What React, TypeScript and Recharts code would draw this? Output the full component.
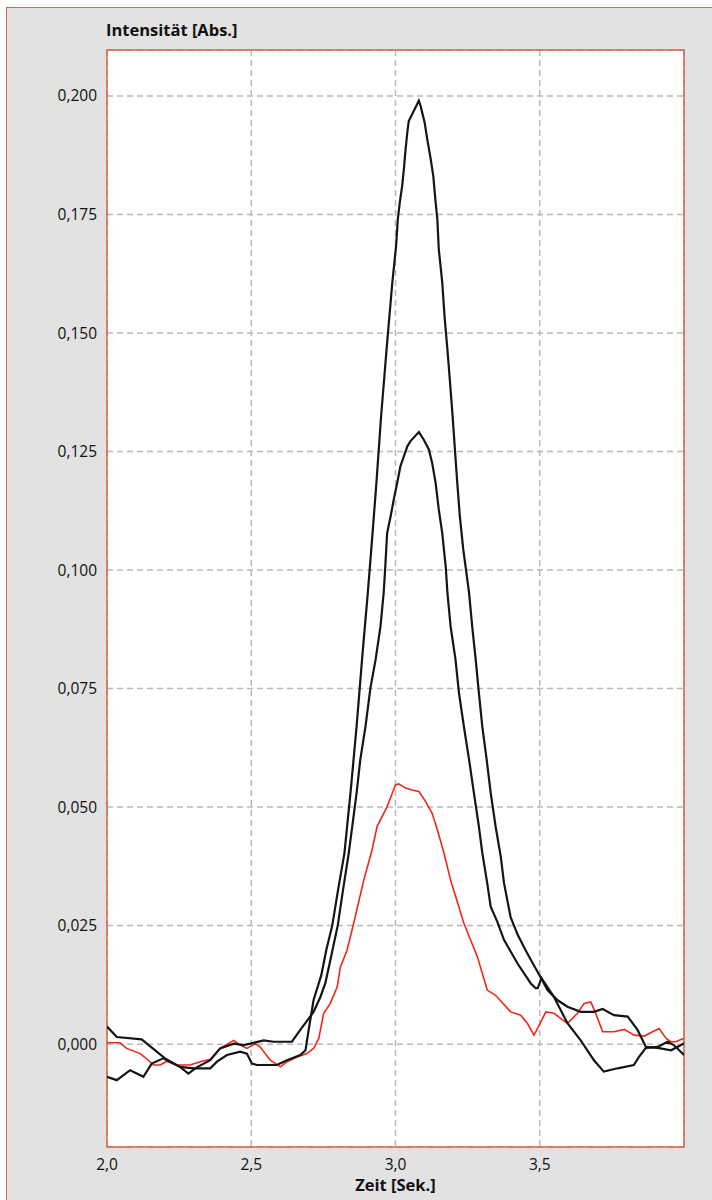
import React from "react";
import { LineChart, Line, XAxis, YAxis, CartesianGrid, ReferenceArea } from "recharts";

// Axis setup
const X_TICKS = [2.0, 2.5, 3.0, 3.5];
const Y_TICKS = [0, 0.025, 0.05, 0.075, 0.1, 0.125, 0.15, 0.175, 0.2];
const X_DOMAIN: [number, number] = [2.0, 4.0];
const Y_DOMAIN: [number, number] = [-0.0217, 0.2097];

// Measured traces: [Zeit (s), Intensität (Abs.)]
const highTrace: [number, number][] = [
  [2.000, -0.0069], [2.034, -0.0076], [2.080, -0.0055], [2.103, -0.0062], [2.126, -0.0069],
  [2.155, -0.0041], [2.195, -0.0030], [2.253, -0.0048], [2.300, -0.0051], [2.358, -0.0051],
  [2.381, -0.0037], [2.416, -0.0023], [2.462, -0.0016], [2.485, -0.0020], [2.502, -0.0041],
  [2.520, -0.0044], [2.589, -0.0044], [2.624, -0.0034], [2.670, -0.0023], [2.688, -0.0013],
  [2.699, 0.0030], [2.716, 0.0093], [2.743, 0.0146], [2.760, 0.0198], [2.781, 0.0251],
  [2.802, 0.0329], [2.823, 0.0403], [2.844, 0.0530], [2.865, 0.0669], [2.884, 0.0811],
  [2.904, 0.0952], [2.916, 0.1043], [2.934, 0.1185], [2.950, 0.1324], [2.969, 0.1465],
  [2.989, 0.1607], [3.002, 0.1683], [3.008, 0.1740], [3.015, 0.1776], [3.023, 0.1810],
  [3.029, 0.1845], [3.035, 0.1888], [3.041, 0.1924], [3.046, 0.1947], [3.081, 0.1990],
  [3.087, 0.1979], [3.101, 0.1944], [3.110, 0.1909], [3.122, 0.1867], [3.131, 0.1831],
  [3.139, 0.1776], [3.145, 0.1740], [3.150, 0.1677], [3.162, 0.1607], [3.170, 0.1535],
  [3.180, 0.1465], [3.189, 0.1396], [3.198, 0.1324], [3.206, 0.1254], [3.214, 0.1185],
  [3.223, 0.1113], [3.235, 0.1043], [3.243, 0.1007], [3.255, 0.0952], [3.266, 0.0880],
  [3.278, 0.0811], [3.289, 0.0741], [3.301, 0.0669], [3.316, 0.0600], [3.330, 0.0530],
  [3.347, 0.0459], [3.365, 0.0395], [3.376, 0.0340], [3.399, 0.0268], [3.424, 0.0230],
  [3.451, 0.0198], [3.479, 0.0167], [3.503, 0.0141], [3.527, 0.0114], [3.561, 0.0093],
  [3.596, 0.0079], [3.642, 0.0068], [3.688, 0.0068], [3.718, 0.0074], [3.757, 0.0061],
  [3.805, 0.0058], [3.839, 0.0030], [3.868, -0.0006], [3.909, -0.0008], [3.955, -0.0013],
  [3.990, -0.0002], [4.000, 0.0002],
];

const midTrace: [number, number][] = [
  [2.000, 0.0037], [2.034, 0.0015], [2.120, 0.0010], [2.201, -0.0030], [2.253, -0.0048],
  [2.282, -0.0062], [2.311, -0.0049], [2.358, -0.0034], [2.392, -0.0009], [2.439, 0.0001],
  [2.473, -0.0002], [2.497, 0.0001], [2.543, 0.0008], [2.577, 0.0005], [2.641, 0.0005],
  [2.670, 0.0030], [2.699, 0.0054], [2.716, 0.0068], [2.740, 0.0100], [2.757, 0.0129],
  [2.778, 0.0188], [2.800, 0.0251], [2.818, 0.0325], [2.838, 0.0403], [2.850, 0.0459],
  [2.865, 0.0529], [2.878, 0.0600], [2.896, 0.0670], [2.913, 0.0751], [2.931, 0.0811],
  [2.948, 0.0881], [2.959, 0.0952], [2.964, 0.1001], [2.971, 0.1078], [2.983, 0.1113],
  [2.994, 0.1149], [3.006, 0.1184], [3.017, 0.1219], [3.029, 0.1240], [3.041, 0.1261],
  [3.052, 0.1272], [3.081, 0.1291], [3.098, 0.1275], [3.116, 0.1254], [3.127, 0.1226],
  [3.139, 0.1184], [3.150, 0.1128], [3.162, 0.1078], [3.174, 0.1008], [3.180, 0.0952],
  [3.191, 0.0881], [3.208, 0.0811], [3.220, 0.0741], [3.237, 0.0670], [3.255, 0.0600],
  [3.272, 0.0529], [3.289, 0.0459], [3.301, 0.0403], [3.318, 0.0339], [3.330, 0.0290],
  [3.353, 0.0258], [3.376, 0.0220], [3.423, 0.0170], [3.469, 0.0128], [3.486, 0.0118],
  [3.493, 0.0118], [3.506, 0.0139], [3.549, 0.0100], [3.596, 0.0044], [3.642, 0.0008],
  [3.688, -0.0034], [3.722, -0.0058], [3.770, -0.0051], [3.826, -0.0044], [3.844, -0.0027],
  [3.868, -0.0008], [3.909, -0.0006], [3.943, 0.0005], [3.965, -0.0002], [4.000, -0.0023],
];

const redTrace: [number, number][] = [
  [2.000, 0.0003], [2.045, 0.0003], [2.068, -0.0009], [2.115, -0.0020], [2.143, -0.0034],
  [2.161, -0.0044], [2.184, -0.0044], [2.207, -0.0036], [2.242, -0.0044], [2.288, -0.0044],
  [2.323, -0.0037], [2.358, -0.0032], [2.392, -0.0009], [2.439, 0.0008], [2.462, -0.0002],
  [2.485, -0.0009], [2.514, 0.0001], [2.531, -0.0006], [2.566, -0.0034], [2.601, -0.0048],
  [2.624, -0.0037], [2.659, -0.0027], [2.693, -0.0020], [2.716, -0.0009], [2.734, 0.0012],
  [2.751, 0.0065], [2.774, 0.0086], [2.798, 0.0121], [2.809, 0.0163], [2.832, 0.0198],
  [2.855, 0.0255], [2.890, 0.0346], [2.919, 0.0410], [2.936, 0.0459], [2.971, 0.0501],
  [3.000, 0.0547], [3.011, 0.0549], [3.035, 0.0540], [3.058, 0.0536], [3.081, 0.0533],
  [3.104, 0.0512], [3.127, 0.0487], [3.145, 0.0452], [3.168, 0.0403], [3.191, 0.0346],
  [3.237, 0.0255], [3.284, 0.0184], [3.318, 0.0114], [3.347, 0.0103], [3.399, 0.0068],
  [3.434, 0.0061], [3.457, 0.0044], [3.480, 0.0019], [3.498, 0.0040], [3.521, 0.0068],
  [3.550, 0.0065], [3.579, 0.0051], [3.596, 0.0044], [3.631, 0.0065], [3.654, 0.0086],
  [3.677, 0.0089], [3.694, 0.0065], [3.718, 0.0026], [3.758, 0.0026], [3.793, 0.0031],
  [3.827, 0.0019], [3.862, 0.0017], [3.891, 0.0026], [3.914, 0.0033], [3.938, 0.0012],
  [3.955, 0.0005], [3.972, 0.0005], [3.990, 0.0010], [4.000, 0.0012],
];

const toRows = (pts: [number, number][]) => pts.map(([t, v]) => ({ t, v }));

const FONT = "'Open Sans', sans-serif";
const FRAME_RED = "#dd6246";
const GRID = "#b9b9b9";

const fmtX = (v: number) => v.toFixed(1).replace(".", ",");
const fmtY = (v: number) => v.toFixed(3).replace(".", ",");

const YTitle = (props: any) => {
  const vb = props.viewBox || {};
  return (
    <text
      x={vb.x + vb.width - 1}
      y={vb.y - 14}
      textAnchor="start"
      fontFamily={FONT}
      fontWeight={700}
      fontSize={16.5}
      fill="#111"
    >
      Intensität [Abs.]
    </text>
  );
};

export default function App() {
  return (
    <div
      style={{
        position: "absolute",
        left: 0,
        top: 0,
        width: 712,
        height: 1200,
        overflow: "hidden",
        background: "#ffffff",
      }}
    >
      <div
        style={{
          position: "absolute",
          left: 6,
          top: 7,
          width: 720,
          height: 1210,
          border: `1.5px solid ${FRAME_RED}`,
          background: "#e2e2e2",
        }}
      />
      <div style={{ position: "absolute", left: 0, top: 0 }}>
        <LineChart
          width={712}
          height={1200}
          margin={{ top: 50, right: 28, bottom: 5, left: 0 }}
          style={{ fontFamily: FONT }}
        >
          <CartesianGrid
            stroke={GRID}
            strokeWidth={1.5}
            strokeDasharray="6 4"
            fill="#ffffff"
            fillOpacity={1}
          />
          <XAxis
            type="number"
            dataKey="t"
            domain={X_DOMAIN}
            ticks={X_TICKS}
            tickFormatter={fmtX}
            allowDataOverflow
            axisLine={false}
            tickLine={false}
            tickSize={0}
            tickMargin={12}
            height={48}
            tick={{ fill: "#111", fontSize: 15.5, fontFamily: FONT }}
            label={{
              value: "Zeit [Sek.]",
              position: "insideBottom",
              offset: 4,
              fill: "#111",
              fontSize: 16.5,
              fontWeight: 700,
              fontFamily: FONT,
            }}
          />
          <YAxis
            type="number"
            domain={Y_DOMAIN}
            ticks={Y_TICKS}
            tickFormatter={fmtY}
            allowDataOverflow
            axisLine={false}
            tickLine={false}
            tickSize={0}
            tickMargin={10}
            width={107}
            tick={{ fill: "#111", fontSize: 15.5, fontFamily: FONT }}
            label={<YTitle />}
          />
          <Line
            data={toRows(redTrace)}
            dataKey="v"
            type="linear"
            stroke="#f2261a"
            strokeWidth={1.6}
            dot={false}
            isAnimationActive={false}
          />
          <Line
            data={toRows(midTrace)}
            dataKey="v"
            type="linear"
            stroke="#151515"
            strokeWidth={2.2}
            dot={false}
            isAnimationActive={false}
          />
          <Line
            data={toRows(highTrace)}
            dataKey="v"
            type="linear"
            stroke="#151515"
            strokeWidth={2.2}
            dot={false}
            isAnimationActive={false}
          />
          <ReferenceArea
            x1={X_DOMAIN[0]}
            x2={X_DOMAIN[1]}
            y1={Y_DOMAIN[0]}
            y2={Y_DOMAIN[1]}
            fill="none"
            stroke={FRAME_RED}
            strokeWidth={1.5}
            ifOverflow="visible"
          />
        </LineChart>
      </div>
    </div>
  );
}
